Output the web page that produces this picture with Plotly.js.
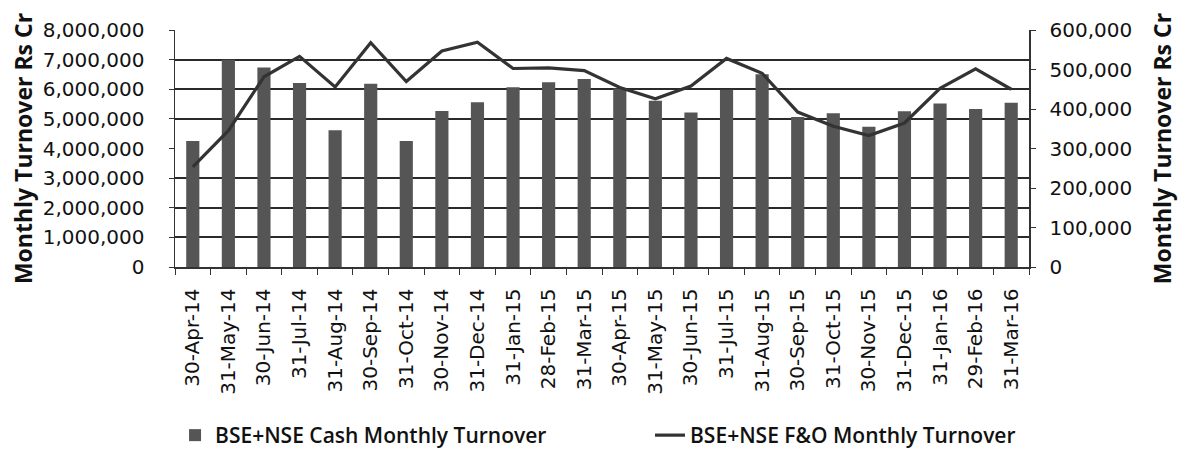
<!DOCTYPE html>
<html>
<head>
<meta charset="utf-8">
<script src="https://cdn.plot.ly/plotly-3.0.1.min.js"></script>
<style>html,body{margin:0;padding:0;background:#fff;}#chart{width:1178px;height:456px;}</style>
</head>
<body>
<div id="chart"></div>
<script>
const categories = ["30-Apr-14","31-May-14","30-Jun-14","31-Jul-14","31-Aug-14","30-Sep-14","31-Oct-14","30-Nov-14","31-Dec-14","31-Jan-15","28-Feb-15","31-Mar-15","30-Apr-15","31-May-15","30-Jun-15","31-Jul-15","31-Aug-15","30-Sep-15","31-Oct-15","30-Nov-15","31-Dec-15","31-Jan-16","29-Feb-16","31-Mar-16"];
const cashTurnover = [319000,525000,505000,466000,346000,464000,319000,395000,417000,455000,468000,476000,452000,421000,391000,449000,488000,380000,389000,355000,394000,414000,400000,416000];
const foTurnover = [3380000,4600000,6420000,7110000,6080000,7570000,6260000,7290000,7590000,6700000,6720000,6630000,6060000,5680000,6110000,7040000,6540000,5230000,4750000,4440000,4860000,6030000,6690000,6000000];
const cashName = "BSE+NSE Cash Monthly Turnover";
const foName = "BSE+NSE F&O Monthly Turnover";
const axisTitle = "Monthly Turnover Rs Cr";

const FONT = "Open Sans, sans-serif";
const tickFont = {family: "DejaVu Sans, sans-serif", size: 20, color: "#111"};
const titleFont = {family: FONT, size: 23, color: "#111", weight: 700};
const legendFont = {family: FONT, size: 21, color: "#111", weight: 600};

const traces = [
  {type: "bar", name: cashName, x: categories, y: cashTurnover, yaxis: "y", legend: "legend",
   marker: {color: "#555555"}, width: 0.37},
  {type: "scatter", mode: "lines", name: foName, x: categories, y: foTurnover, yaxis: "y2", legend: "legend2",
   line: {color: "#333333", width: 3.2}}
];

const layout = {
  width: 1178, height: 456, autosize: false,
  paper_bgcolor: "#ffffff", plot_bgcolor: "#ffffff",
  margin: {l: 175, r: 149, t: 30, b: 189, pad: 0},
  showlegend: true,
  legend: {orientation: "h", xref: "container", yref: "container",
           x: 0.1486, xanchor: "left", y: 0.045, yanchor: "middle",
           font: legendFont, bgcolor: "rgba(0,0,0,0)"},
  legend2: {orientation: "h", xref: "container", yref: "container",
           x: 0.5518, xanchor: "left", y: 0.045, yanchor: "middle",
           font: legendFont, bgcolor: "rgba(0,0,0,0)"},
  xaxis: {type: "category", tickangle: -90, tickfont: tickFont,
          showline: true, linecolor: "#333", linewidth: 1.5,
          ticks: "outside", tickson: "boundaries", ticklen: 6, tickcolor: "#333",
          showgrid: false, ticklabelstandoff: 12, automargin: false},
  yaxis: {side: "right", range: [0, 600000], dtick: 100000, tickformat: ",d",
          tickfont: tickFont, showgrid: false, zeroline: false,
          minor: {dtick: 75000, tick0: 0, showgrid: true, gridcolor: "#2a2a2a", gridwidth: 2, ticks: ""},
          showline: true, linecolor: "#333", linewidth: 1.5,
          ticks: "outside", ticklen: 5, tickcolor: "#333", ticklabelstandoff: 10,
          title: {text: axisTitle, font: titleFont, standoff: 47}, automargin: false},
  yaxis2: {overlaying: "y", side: "left", range: [0, 8000000], dtick: 1000000, tickformat: ",d",
           tickfont: tickFont, showgrid: false, zeroline: false,
           showline: true, linecolor: "#333", linewidth: 1.5,
           ticks: "outside", ticklen: 5, tickcolor: "#333", ticklabelstandoff: 20,
           title: {text: axisTitle, font: titleFont, standoff: 3}, automargin: false},
  bargap: 0.62
};

Plotly.newPlot("chart", traces, layout, {staticPlot: true, displayModeBar: false});
</script>
</body>
</html>
